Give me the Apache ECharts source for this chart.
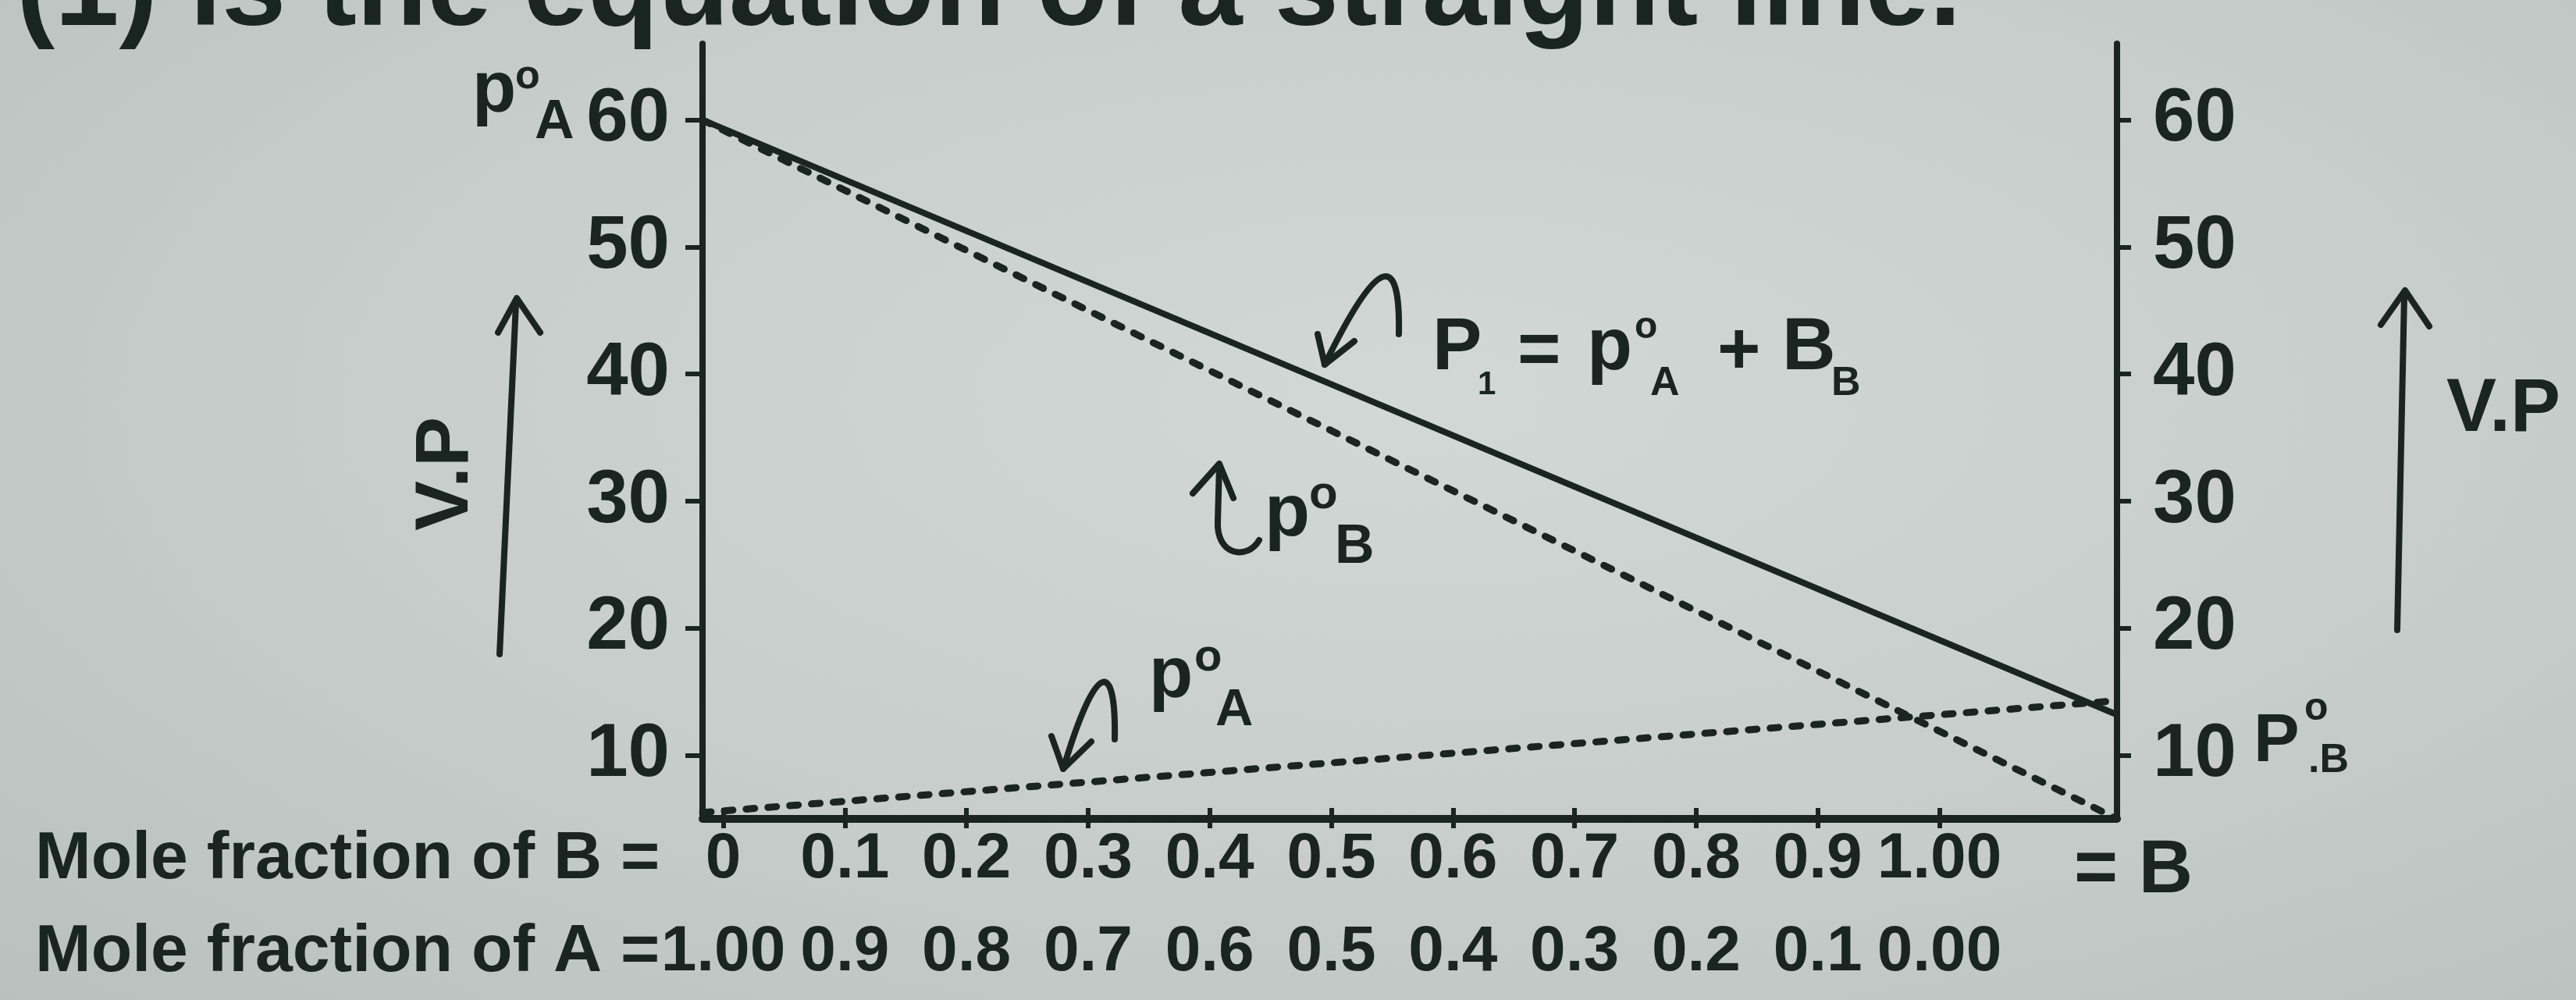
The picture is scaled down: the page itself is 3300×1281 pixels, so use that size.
<!DOCTYPE html>
<html>
<head>
<meta charset="utf-8">
<title>Vapour pressure - mole fraction diagram</title>
<script src="https://cdn.jsdelivr.net/npm/echarts@6/dist/echarts.min.js"></script>
<style>
  html, body { margin: 0; padding: 0; }
  body { background: radial-gradient(ellipse at 55% 40%, #d1d8d6 0%, #c6cdcb 55%, #b9c1bf 100%); }
  #chart { width: 3300px; height: 1281px; }
</style>
</head>
<body>
<div id="chart"></div>
<script>
// mole fraction of B where the lines meet the left and right axes
const molB = [-0.017, 1.146]
// vapour pressure at those two ends
const totalP = [60, 13.2]
const fallingP = [60, 5]
const risingP = [5.5, 14.3]

const yRange = [5, 66]
const yTicks = [10, 20, 30, 40, 50, 60]
const xTicks = [0, 0.1, 0.2, 0.3, 0.4, 0.5, 0.6, 0.7, 0.8, 0.9, 1]
const bLabels = ['0', '0.1', '0.2', '0.3', '0.4', '0.5', '0.6', '0.7', '0.8', '0.9', '1.00']
const aLabels = ['1.00', '0.9', '0.8', '0.7', '0.6', '0.5', '0.4', '0.3', '0.2', '0.1', '0.00']

const ink = '#1a2420'
const face = '"Liberation Sans", Arial, sans-serif'

const chart = echarts.init(document.getElementById('chart'), null, { renderer: 'canvas' })

const pairs = (ys) => molB.map((x, i) => [x, ys[i]])

// one piece of annotation text, y is the middle of the line box
const txt = (text, x, y, size, extra) => Object.assign({
  type: 'text',
  x: x,
  y: y,
  silent: true,
  style: {
    text: text,
    fill: ink,
    font: 'bold ' + size + 'px ' + face,
    align: 'left',
    verticalAlign: 'middle',
    textAlign: 'left',
    textVerticalAlign: 'middle'
  }
}, extra || {})

const stroke = { stroke: ink, lineWidth: 8, fill: null, lineCap: 'round', lineJoin: 'round' }
const poly = (points) => ({ type: 'polyline', silent: true, shape: { points: points }, style: stroke })
const curve = (x1, y1, cpx1, cpy1, cpx2, cpy2, x2, y2) => ({
  type: 'bezierCurve', silent: true,
  shape: { x1, y1, cpx1, cpy1, cpx2, cpy2, x2, y2 },
  style: stroke
})

const labelFont = { color: ink, fontFamily: face, fontWeight: 'bold' }

const option = {
  animation: false,
  backgroundColor: 'transparent',
  grid: { left: 900, right: 588, top: 56, bottom: 232, containLabel: false, outerBoundsMode: 'none' },
  xAxis: [
    {
      type: 'value',
      min: molB[0],
      max: molB[1],
      position: 'bottom',
      splitLine: { show: false },
      axisLine: { show: true, onZero: false, lineStyle: { color: ink, width: 10 } },
      axisTick: { show: true, inside: true, length: 14, customValues: xTicks, lineStyle: { color: ink, width: 6 } },
      axisLabel: Object.assign({
        customValues: xTicks,
        fontSize: 82,
        margin: 11,
        formatter: (v) => bLabels[Math.round(v * 10)]
      }, labelFont)
    },
    {
      type: 'value',
      min: molB[0],
      max: molB[1],
      position: 'bottom',
      splitLine: { show: false },
      axisLine: { show: false, onZero: false },
      axisTick: { show: true, inside: false, length: 12, customValues: xTicks, lineStyle: { color: ink, width: 6 } },
      axisLabel: Object.assign({
        customValues: xTicks,
        fontSize: 82,
        margin: 130,
        formatter: (v) => aLabels[Math.round(v * 10)]
      }, labelFont)
    }
  ],
  yAxis: [
    {
      type: 'value',
      min: yRange[0],
      max: yRange[1],
      position: 'left',
      splitLine: { show: false },
      axisLine: { show: true, onZero: false, lineStyle: { color: ink, width: 8 } },
      axisTick: { show: true, length: 22, customValues: yTicks, lineStyle: { color: ink, width: 6 } },
      axisLabel: Object.assign({ customValues: yTicks, fontSize: 96, margin: 42 }, labelFont)
    },
    {
      type: 'value',
      min: yRange[0],
      max: yRange[1],
      position: 'right',
      splitLine: { show: false },
      axisLine: { show: true, onZero: false, lineStyle: { color: ink, width: 8 } },
      axisTick: { show: true, length: 18, customValues: yTicks, lineStyle: { color: ink, width: 6 } },
      axisLabel: Object.assign({ customValues: yTicks, fontSize: 96, margin: 46 }, labelFont)
    }
  ],
  series: [
    {
      name: 'P total',
      type: 'line',
      data: pairs(totalP),
      showSymbol: false,
      lineStyle: { color: ink, width: 8 }
    },
    {
      name: 'falling',
      type: 'line',
      data: pairs(fallingP),
      showSymbol: false,
      lineStyle: { color: ink, width: 9, type: [11, 17], cap: 'round' }
    },
    {
      name: 'rising',
      type: 'line',
      data: pairs(risingP),
      showSymbol: false,
      lineStyle: { color: ink, width: 9, type: [11, 17], cap: 'round' }
    }
  ],
  graphic: [
    // cut-off caption at the very top
    txt('(1) is the equation of a straight line.', 21, -9, 148),

    // p°A beside the 60 tick
    txt('p', 605, 118, 92),
    txt('o', 660, 99, 52),
    txt('A', 685, 158, 70),

    // left V.P with arrow
    txt('V.P', 573, 607, 96, { rotation: Math.PI / 2, style: {
      text: 'V.P', fill: ink, font: 'bold 96px ' + face,
      align: 'center', verticalAlign: 'middle', textAlign: 'center', textVerticalAlign: 'middle'
    } }),
    poly([[640, 838], [661, 388]]),
    poly([[638, 426], [662, 382], [692, 426]]),

    // right V.P with arrow
    txt('V.P', 3134, 526, 96),
    poly([[3071, 807], [3080, 378]]),
    poly([[3050, 416], [3081, 372], [3112, 418]]),

    // P1 = p°A + BB
    curve(1792, 428, 1794, 325, 1768, 322, 1697, 467),
    poly([[1688, 428], [1697, 467], [1735, 437]]),
    txt('P', 1835, 447, 95),
    txt('1', 1893, 493, 42),
    txt('=', 1944, 452, 95),
    txt('p', 2033, 447, 95),
    txt('o', 2094, 420, 48),
    txt('A', 2114, 492, 52),
    txt('+', 2200, 452, 95),
    txt('B', 2283, 447, 95),
    txt('B', 2346, 492, 52),

    // p°B with hooked arrow
    poly([[1562, 596], [1560, 668]]),
    curve(1560, 668, 1558, 712, 1598, 718, 1613, 692),
    poly([[1528, 632], [1562, 594], [1580, 638]]),
    txt('p', 1620, 660, 95),
    txt('o', 1677, 634, 60),
    txt('B', 1710, 702, 70),

    // p°A on the rising line
    curve(1428, 947, 1430, 845, 1405, 842, 1362, 985),
    poly([[1347, 943], [1362, 985], [1398, 950]]),
    txt('p', 1472, 868, 92),
    txt('o', 1530, 843, 58),
    txt('A', 1557, 911, 67),

    // P°.B beside the right 10 tick
    txt('P', 2887, 951, 88),
    txt('o', 2952, 908, 50),
    txt('.B', 2957, 975, 52),

    // bottom rows
    txt('Mole fraction of B =', 45, 1101, 86),
    txt('Mole fraction of A =', 45, 1220, 86),
    txt('= B', 2657, 1117, 96)
  ]
}

chart.setOption(option)
window.addEventListener('resize', () => chart.resize())
</script>
</body>
</html>
